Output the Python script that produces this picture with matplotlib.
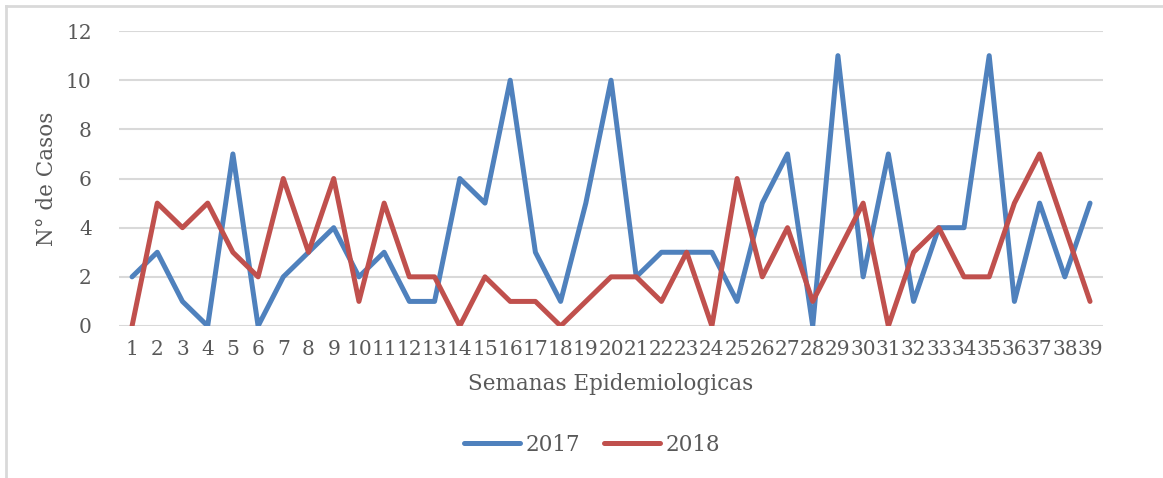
import numpy as np
import matplotlib
matplotlib.use("Agg")
import matplotlib.pyplot as plt
from matplotlib.lines import Line2D

# semanas epidemiologicas 1..39
semanas = list(range(1, 40))
casos_2017 = [2, 3, 1, 0, 7, 0, 2, 3, 4, 2, 3, 1, 1, 6, 5, 10, 3, 1, 5, 10,
              2, 3, 3, 3, 1, 5, 7, 0, 11, 2, 7, 1, 4, 4, 11, 1, 5, 2, 5]
casos_2018 = [0, 5, 4, 5, 3, 2, 6, 3, 6, 1, 5, 2, 2, 0, 2, 1, 1, 0, 1, 2,
              2, 1, 3, 0, 6, 2, 4, 1, 3, 5, 0, 3, 4, 2, 2, 5, 7, 4, 1]
y_ticks = [0, 2, 4, 6, 8, 10, 12]

plt.rcParams['font.family'] = ['DejaVu Serif']
text_color = '#595959'
grid_color = '#D9D9D9'

fig = plt.figure(figsize=(11.63, 4.78), dpi=100)
ax = fig.add_axes([0.1027, 0.318, 0.8454, 0.617])

ax.plot(semanas, casos_2017, color='#4F81BD', lw=3.6, label='2017',
        solid_joinstyle='round', solid_capstyle='round')
ax.plot(semanas, casos_2018, color='#C0504D', lw=3.6, label='2018',
        solid_joinstyle='round', solid_capstyle='round')

ax.set_xlim(0.5, 39.5)
ax.set_ylim(0, 12)
ax.set_yticks(y_ticks)
ax.set_xticks(semanas)
ax.set_xticklabels([str(s) for s in semanas])
ax.yaxis.grid(True, color=grid_color, lw=1.5)
ax.set_axisbelow(True)
for s in ax.spines.values():
    s.set_visible(False)
ax.tick_params(axis='both', length=0, labelsize=14.5, colors=text_color)
ax.tick_params(axis='y', pad=20)
ax.tick_params(axis='x', pad=10)

ax.set_ylabel('N° de Casos', fontsize=15.5, color=text_color, labelpad=6)
ax.set_xlabel('Semanas Epidemiologicas', fontsize=15.5, color=text_color, labelpad=10)

leg = fig.legend(loc='center', bbox_to_anchor=(0.509, 0.069), ncol=2, frameon=False,
                 fontsize=15.5, handlelength=2.6, handletextpad=0.25, columnspacing=1.1)
for t in leg.get_texts():
    t.set_color(text_color)

# chart frame (top and left edges visible)
fig.add_artist(Line2D([6 / 1163, 1], [1 - 6 / 478, 1 - 6 / 478], color=grid_color, lw=2,
                      transform=fig.transFigure))
fig.add_artist(Line2D([6 / 1163, 6 / 1163], [0, 1 - 6 / 478], color=grid_color, lw=2,
                      transform=fig.transFigure))

fig.savefig('out.png', dpi=100, facecolor='white')
